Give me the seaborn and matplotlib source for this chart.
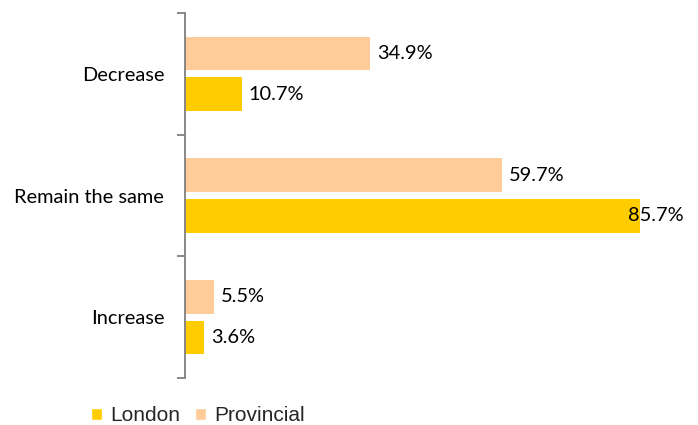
import matplotlib
matplotlib.use("Agg")
import matplotlib.pyplot as plt
from matplotlib.patches import Patch
import seaborn as sns
import pandas as pd

# Survey responses by market
categories = ["Decrease", "Remain the same", "Increase"]
london = [10.7, 85.7, 3.6]
provincial = [34.9, 59.7, 5.5]
series_names = ["Provincial", "London"]
colors = {"Provincial": "#FFCC99", "London": "#FFCC00"}

df = pd.DataFrame({
    "category": categories * 2,
    "series": ["Provincial"] * 3 + ["London"] * 3,
    "value": provincial + london,
})

sns.set_theme(style="white")
plt.rcParams["font.family"] = ["Lato", "DejaVu Sans"]

fig = plt.figure(figsize=(6.98, 4.25), dpi=100)
ax = fig.add_axes([185 / 698, 1 - 378 / 425, 500 / 698, 365 / 425])

sns.barplot(data=df, x="value", y="category", hue="series",
            order=categories, hue_order=series_names, palette=colors,
            orient="h", width=0.667, gap=0.175, dodge=True,
            legend=False, ax=ax, saturation=1, linewidth=0)

xmax = 94.2
ax.set_xlim(0, xmax)
ax.set_ylim(2.5, -0.5)

# value labels next to each bar
for cont, name in zip(ax.containers, series_names):
    for bar, val in zip(cont, df.loc[df.series == name, "value"]):
        yc = bar.get_y() + bar.get_height() / 2
        x = val + 1.3
        ha = "left"
        if x + 9.5 > xmax:
            x, ha = xmax - 0.3, "right"
        ax.text(x, yc, f"{val:.1f}%", ha=ha, va="center",
                fontsize=14.4, color="black")

for s in ["top", "right", "bottom"]:
    ax.spines[s].set_visible(False)
ax.spines["left"].set_color("#7f7f7f")
ax.spines["left"].set_linewidth(1.3)

ax.set_xticks([])
ax.set_xlabel("")
ax.set_ylabel("")
ax.set_yticks(range(len(categories)))
ax.set_yticklabels(categories, fontsize=14.4, color="black")
ax.set_yticks([-0.5, 0.5, 1.5, 2.5], minor=True)
ax.tick_params(axis="y", which="major", length=0, pad=15)
ax.tick_params(axis="y", which="minor", length=6, width=1.3,
               color="#7f7f7f", direction="out", left=True)

handles = [Patch(facecolor=colors["London"], label="London"),
           Patch(facecolor=colors["Provincial"], label="Provincial")]
fig.legend(handles=handles, loc="lower left",
           bbox_to_anchor=(72 / 698, -19 / 425), ncol=2, frameon=False,
           prop={"family": "Liberation Sans", "size": 15.0},
           handlelength=0.55, handleheight=0.55, handletextpad=0.38,
           columnspacing=0.7)

fig.savefig("out.png", dpi=100)
